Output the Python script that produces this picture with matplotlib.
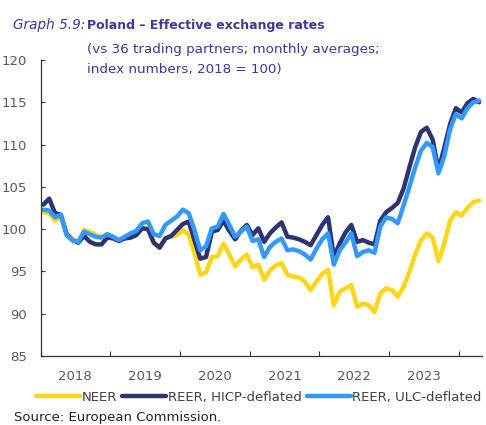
import matplotlib
matplotlib.use("Agg")
import matplotlib.pyplot as plt
import numpy as np

plt.rcParams['font.family'] = ['DejaVu Sans']

# Monthly index values, Jan 2018 - Apr 2024 (2018 = 100)
years = ["2018", "2019", "2020", "2021", "2022", "2023"]

neer = [102.0, 101.9, 101.0, 101.5, 99.5, 98.8, 98.5, 99.9, 99.7, 99.3, 99.1, 99.4,
        99.0, 98.7, 99.0, 99.3, 99.7, 100.1, 100.1, 98.3, 97.9, 98.9, 99.1, 99.3,
        99.9, 99.3, 97.2, 94.6, 94.9, 96.7, 96.8, 98.3, 97.0, 95.6, 96.4, 97.0,
        95.5, 95.8, 94.0, 95.1, 95.7, 96.0, 94.6, 94.4, 94.3, 93.8, 92.8, 93.8,
        94.7, 95.2, 91.0, 92.6, 93.0, 93.4, 90.8, 91.2, 91.0, 90.2, 92.4, 93.0,
        92.8, 92.0, 93.2, 94.9, 97.0, 98.7, 99.5, 99.0, 96.2, 98.3, 101.0, 102.0,
        101.6, 102.5, 103.2, 103.4]

reer_hicp = [102.9, 103.6, 101.9, 101.7, 99.4, 98.7, 98.4, 99.2, 98.5, 98.2, 98.2, 99.0,
             98.9, 98.6, 98.9, 99.0, 99.3, 100.1, 100.0, 98.4, 97.8, 98.9, 99.2, 99.9,
             100.6, 100.9, 98.7, 96.5, 96.7, 99.7, 99.9, 101.0, 99.8, 98.8, 99.8, 100.5,
             99.3, 100.1, 98.5, 99.5, 100.2, 100.8, 99.1, 99.0, 98.8, 98.5, 98.1, 99.3,
             100.5, 101.4, 96.7, 98.3, 99.6, 100.5, 98.5, 98.7, 98.4, 98.2, 101.0, 102.0,
             102.5, 103.1, 104.8, 107.3, 109.7, 111.5, 112.0, 110.6, 107.0, 109.6, 112.4, 114.3,
             113.8, 114.9, 115.4, 115.0]

reer_ulc = [102.3, 102.2, 101.4, 101.7, 99.3, 98.7, 98.5, 99.7, 99.4, 99.1, 99.0, 99.4,
            99.1, 98.7, 99.1, 99.5, 99.8, 100.7, 100.9, 99.4, 99.2, 100.5, 101.0, 101.5,
            102.3, 101.9, 99.9, 97.5, 98.0, 100.1, 100.3, 101.8, 100.5, 99.1, 99.7, 100.3,
            98.6, 98.8, 96.7, 97.9, 98.5, 98.9, 97.5, 97.6, 97.4, 97.0, 96.4, 97.7,
            98.8, 99.5, 95.8, 97.5, 98.4, 99.5, 96.8, 97.3, 97.5, 97.2, 100.3, 101.4,
            101.2, 100.7, 102.8, 105.0, 107.3, 109.3, 110.2, 109.7, 106.6, 108.6, 111.8, 113.6,
            113.1, 114.3, 115.0, 115.2]

series_labels = ["NEER", "REER, HICP-deflated", "REER, ULC-deflated"]
colors = ["#FFD617", "#2E3472", "#3399FF"]

W, H = 486, 425
fig = plt.figure(figsize=(W / 100, H / 100), dpi=100)

left, right, top, bottom = 40.5, 482, 60, 356
ax = fig.add_axes([left / W, 1 - bottom / H, (right - left) / W, (bottom - top) / H])

x = np.arange(len(neer))
for vals, lab, col in zip([neer, reer_hicp, reer_ulc], series_labels, colors):
    ax.plot(x, vals, color=col, lw=3.2, label=lab, solid_joinstyle='round',
            solid_capstyle='round')

ax.set_xlim(-0.5, len(neer) - 0.5)
ax.set_ylim(85, 120)
ax.set_yticks(np.arange(85, 121, 5))

# year boundaries as ticks, year names centred in between
ax.set_xticks(np.arange(-0.5, len(neer), 12))
ax.set_xticklabels([])
ax.set_xticks(np.arange(5.5, 12 * len(years), 12), minor=True)
ax.set_xticklabels(years, minor=True)

ax.tick_params(axis='x', which='major', direction='in', length=3.5, width=0.8, color='#333333')
ax.tick_params(axis='x', which='minor', length=0, pad=10, labelsize=9.5, labelcolor='#595959')
ax.tick_params(axis='y', direction='in', length=3, width=0.8, color='#333333', pad=9.5,
               labelsize=9.5, labelcolor='#595959')

for s in ['top', 'right']:
    ax.spines[s].set_visible(False)
for s in ['left', 'bottom']:
    ax.spines[s].set_color('#333333')
    ax.spines[s].set_linewidth(0.9)

# heading
tc = '#3A3A99'
fig.text(13 / W, 1 - 29.5 / H, "Graph 5.9:", style='italic', fontsize=9.8, color=tc, va='baseline')
fig.text(87 / W, 1 - 29.5 / H, "Poland \u2013 Effective exchange rates", weight='bold',
         fontsize=9, color=tc, va='baseline')
fig.text(87 / W, 1 - 52.5 / H, "(vs 36 trading partners; monthly averages;", fontsize=9.7,
         color=tc, va='baseline')
fig.text(87 / W, 1 - 72.5 / H, "index numbers, 2018 = 100)", fontsize=9.7, color=tc,
         va='baseline')

leg = fig.legend(loc='center', bbox_to_anchor=(259 / W, 1 - 397.5 / H), ncol=3,
                 frameon=False, fontsize=9.5, handlelength=3.3, handletextpad=0.15,
                 columnspacing=0.4, borderpad=0, borderaxespad=0)
for t in leg.get_texts():
    t.set_color('#404040')
for h in leg.legend_handles:
    h.set_linewidth(3.2)

fig.text(14 / W, 1 - 421.5 / H, "Source: European Commission.", fontsize=9.5, color='#222222',
         va='baseline')

fig.savefig("out.png", dpi=100)
